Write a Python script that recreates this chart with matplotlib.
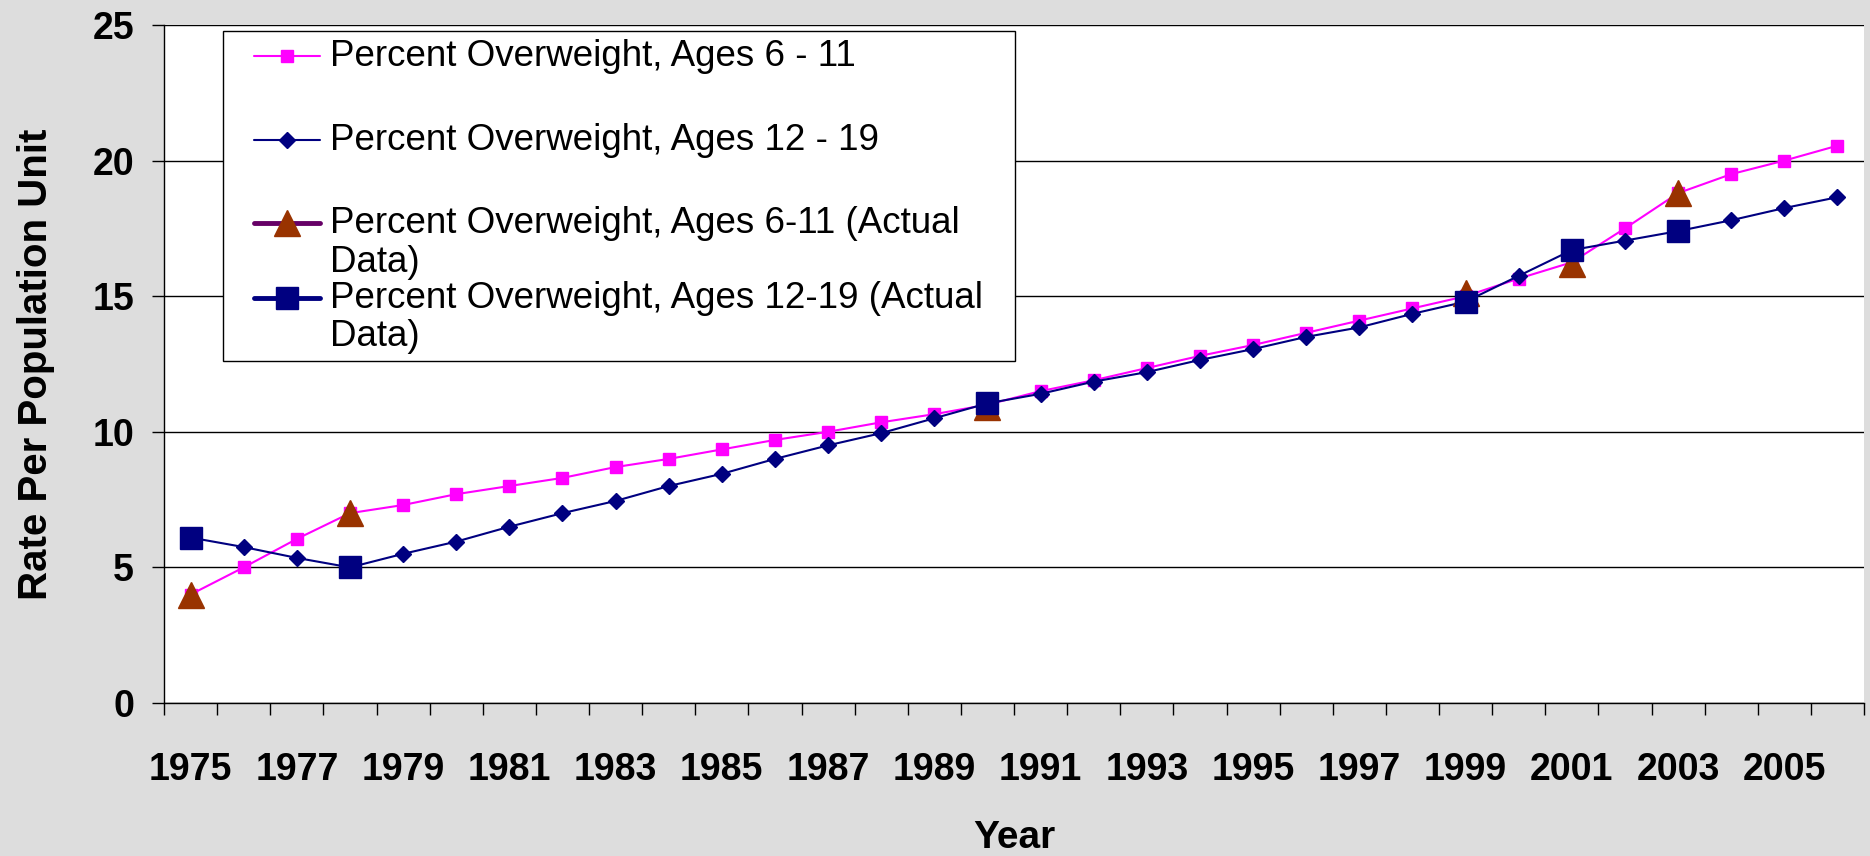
import matplotlib

matplotlib.use("Agg")
import matplotlib.pyplot as plt
import numpy as np
from matplotlib.lines import Line2D
from matplotlib.patches import Rectangle

YEARS = list(range(1975, 2007))
AGES_6_11 = [4.0, 5.0, 6.05, 7.0, 7.3, 7.7, 8.0, 8.3, 8.7, 9.0, 9.35, 9.7, 10.0, 10.35, 10.65, 11.0,
             11.5, 11.9, 12.35, 12.8, 13.2, 13.65, 14.1, 14.55, 15.0, 15.65, 16.25, 17.5, 18.8, 19.5, 20.0, 20.55]
AGES_12_19 = [6.1, 5.75, 5.35, 5.0, 5.5, 5.95, 6.5, 7.0, 7.45, 8.0, 8.45, 9.0, 9.5, 9.95, 10.5, 11.05,
              11.4, 11.85, 12.2, 12.65, 13.05, 13.5, 13.85, 14.35, 14.8, 15.75, 16.7, 17.05, 17.4, 17.8, 18.25, 18.65]
ACTUAL_YEARS = [1975, 1978, 1990, 1999, 2001, 2003]
ACTUAL_6_11 = [4.0, 7.0, 10.9, 15.1, 16.2, 18.8]
ACTUAL_12_19 = [6.1, 5.0, 11.05, 14.8, 16.7, 17.4]
LABELS = [
    ["Percent Overweight, Ages 6 - 11"],
    ["Percent Overweight, Ages 12 - 19"],
    ["Percent Overweight, Ages 6-11 (Actual", "Data)"],
    ["Percent Overweight, Ages 12-19 (Actual", "Data)"],
]

W, H = 1870, 856
BG = "#dddddd"
PINK = "#ff00ff"
NAVY = "#000080"
BROWN = "#993300"
PURPLE = "#660066"
FONT = ["Liberation Sans", "DejaVu Sans"]


def fig_xy(x, y):
    # pixel position (top-left origin) -> figure fraction
    return x / W, 1 - y / H


def with_gaps(years, values):
    out = np.full(len(YEARS), np.nan)
    for year, value in zip(years, values):
        out[YEARS.index(year)] = value
    return out


plt.rcParams["font.family"] = FONT
fig = plt.figure(figsize=(W / 100, H / 100), dpi=100, facecolor=BG)
left, right, top, bottom = 164, 1864, 25, 703
ax = fig.add_axes([left / W, 1 - bottom / H, (right - left) / W, (bottom - top) / H])
ax.set_facecolor("white")

x = np.arange(len(YEARS))
ax.plot(x, AGES_6_11, color=PINK, lw=1.5, marker="s", ms=8.5, mec=PINK, zorder=3)
ax.plot(x, AGES_12_19, color=NAVY, lw=1.5, marker="D", ms=8, mec=NAVY, zorder=4)
ax.plot(x, with_gaps(ACTUAL_YEARS, ACTUAL_6_11), color=PURPLE, lw=3.5, marker="^", ms=19,
        mfc=BROWN, mec=BROWN, zorder=5)
ax.plot(x, with_gaps(ACTUAL_YEARS, ACTUAL_12_19), color=NAVY, lw=3.5, marker="s", ms=16,
        mfc=NAVY, mec=NAVY, zorder=6)

ax.set_xlim(-0.5, len(YEARS) - 0.5)
ax.set_ylim(0, 25)
ax.set_yticks(np.arange(0, 26, 5))
ax.yaxis.grid(True, color="black", lw=1.0)
ax.set_axisbelow(True)

ax.set_xticks(np.arange(-0.5, len(YEARS), 1.0))
ax.set_xticklabels([])
ax.set_xticks(x[::2], minor=True)
ax.set_xticklabels([str(y) for y in YEARS[::2]], minor=True)
ax.tick_params(axis="x", which="major", direction="out", length=8.5, width=1, color="black")
ax.tick_params(axis="x", which="minor", length=0, pad=35, labelsize=27)
ax.tick_params(axis="y", direction="out", length=8.5, width=1, pad=13, labelsize=27)
for lab in ax.get_xticklabels(minor=True) + ax.get_yticklabels():
    lab.set_fontweight("bold")

for side in ("top", "right"):
    ax.spines[side].set_visible(False)
for side in ("left", "bottom"):
    ax.spines[side].set_color("black")
    ax.spines[side].set_linewidth(1.0)

ax.set_ylabel("Rate Per Population Unit", fontsize=29, fontweight="bold", va="center")
ax.yaxis.set_label_coords((36 - left) / (right - left), 0.5)
ax.set_xlabel("Year", fontsize=28, fontweight="bold", va="center")
ax.xaxis.set_label_coords((1014 - left) / (right - left), (bottom - 838) / (bottom - top))

# legend box drawn by hand to keep the stacked layout of the original
bx0, by0, bx1, by1 = 223, 31, 1015, 361
fig.add_artist(Rectangle(fig_xy(bx0, by1), (bx1 - bx0) / W, (by1 - by0) / H, transform=fig.transFigure,
                         facecolor="white", edgecolor="black", lw=1.0, zorder=10))
row_y = [56, 140, 223, 298]
handles = [
    dict(color=PINK, lw=1.5, marker="s", ms=8.5, mfc=PINK, mec=PINK),
    dict(color=NAVY, lw=1.5, marker="D", ms=8, mfc=NAVY, mec=NAVY),
    dict(color=PURPLE, lw=3.5, marker="^", ms=19, mfc=BROWN, mec=BROWN),
    dict(color=NAVY, lw=3.5, marker="s", ms=16, mfc=NAVY, mec=NAVY),
]
for y, lines, style in zip(row_y, LABELS, handles):
    (hx0, hy), (hx1, _) = fig_xy(254, y), fig_xy(320, y)
    line_style = {k: v for k, v in style.items() if k in ("color", "lw")}
    fig.add_artist(Line2D([hx0, hx1], [hy, hy], transform=fig.transFigure, zorder=11,
                          solid_capstyle="round", **line_style))
    mark_style = {k: v for k, v in style.items() if k not in ("color", "lw")}
    fig.add_artist(Line2D([(hx0 + hx1) / 2], [hy], transform=fig.transFigure, zorder=12,
                          ls="none", **mark_style))
    for i, text in enumerate(lines):
        tx, ty = fig_xy(330, y + 39 * i)
        fig.text(tx, ty, text, fontsize=26.5, va="center", ha="left", zorder=13)

fig.savefig("out.png", dpi=100, facecolor=BG)
